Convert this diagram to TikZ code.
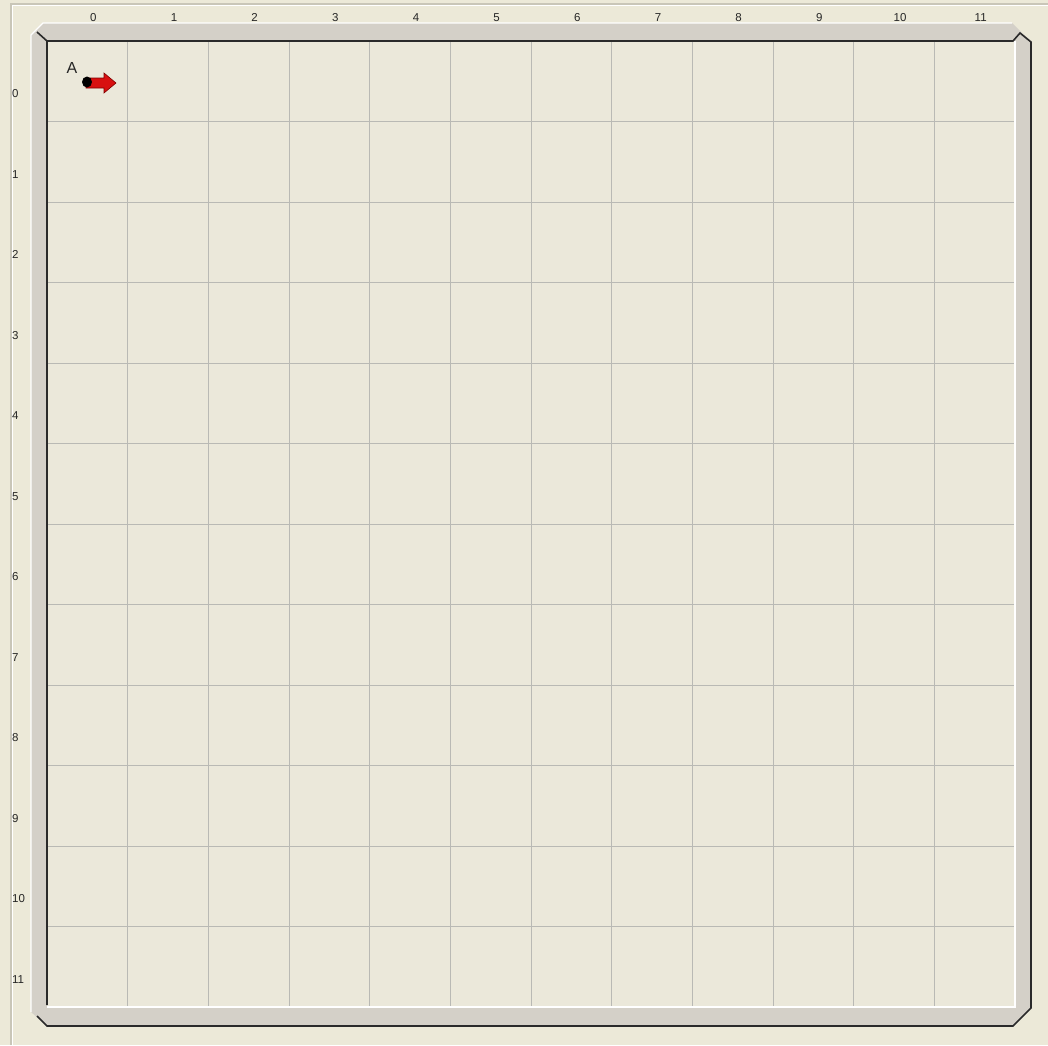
\documentclass[tikz,border=0pt]{standalone}
\usepackage{fontspec}
\setmainfont{Liberation Sans}
\definecolor{panel}{HTML}{ECE9D8}
\definecolor{field}{HTML}{EBE8DA}
\definecolor{band}{HTML}{D4D0C8}
\definecolor{gridc}{HTML}{B9B9B4}
\definecolor{edge}{HTML}{2A2A2A}
\definecolor{panelline}{HTML}{C9C6B8}
\definecolor{arrowred}{HTML}{D81010}
\begin{document}
\begin{tikzpicture}[x=1pt,y=-1pt,
  axislabel/.style={font=\fontsize{11.5}{12}\selectfont, text=black!85, inner sep=0pt},
  gridline/.style={draw=gridc, line width=1pt},
  frameedge/.style={draw=edge, line width=1.6pt, line join=miter},
  hilite/.style={draw=white, line width=1.2pt}]
\useasboundingbox (0,0) rectangle (1048,1045);
\fill[panel] (0,0) rectangle (1048,1045);
% panel border lines
\draw[panelline, line width=1.2pt] (11,1045) -- (11,4) -- (1048,4);
\draw[white, line width=1pt] (12.5,1045) -- (12.5,5.5) -- (1048,5.5);
% bevel band
\fill[band] (31,35) -- (43,23) -- (1012,23) -- (1020,31) -- (1031,41) -- (1031,1008) -- (1013,1026) -- (47,1026) -- (31,1012) -- cycle;
\draw[hilite] (31,1012) -- (31,35) -- (43,23) -- (1012,23);
% field
\fill[field] (47,41) rectangle (1015,1007);
% grid
\foreach \i in {1,...,11} {
  \draw[gridline] ({47+80.667*\i},41) -- ({47+80.667*\i},1007);
  \draw[gridline] (47,{41+80.5*\i}) -- (1015,{41+80.5*\i});
}
% frame edges
\draw[hilite] (47,1007) -- (1015,1007) -- (1015,41);
\draw[frameedge] (47,1005) -- (47,41) -- (1013,41) -- (1020,33) -- (1031,42) -- (1031,1008) -- (1013,1026) -- (47,1026) -- (37,1016);
\draw[frameedge] (37,32) -- (47,41);
% column labels
\foreach \c in {0,...,11} {
  \node[axislabel, anchor=base] (col\c) at ({47+80.667*(\c+0.5)+6},21.5) {\c};
}
% row labels
\foreach \r in {0,...,11} {
  \node[axislabel, anchor=base west] (row\r) at (12,{41+80.5*(\r+0.5)+16.5}) {\r};
}
% robot marker
\node[font=\fontsize{16}{17}\selectfont, inner sep=0pt, text=black!85] (labelA) at (72,68) {A};
\coordinate (tail) at (87,82);
\fill[arrowred, draw=black!50!red, line width=0.6pt] (86,78) -- (104,78) -- (104,73) -- (116,83) -- (104,93) -- (104,88) -- (86,88) -- cycle;
\fill[black] (tail) ellipse (5pt and 5.5pt);
\end{tikzpicture}
\end{document}
